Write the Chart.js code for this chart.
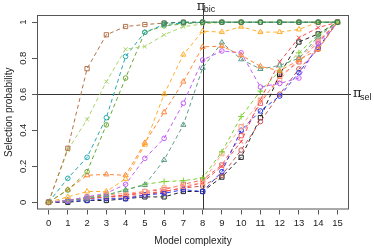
<!DOCTYPE html>
<html>
<head>
<meta charset="utf-8">
<style>
  body { margin: 0; background: #fff; }
  #wrap { width: 374px; height: 248px; }
</style>
</head>
<body>
<div id="wrap"><canvas id="pathChart" width="374" height="248"></canvas></div>
<script src="https://cdn.jsdelivr.net/npm/chart.js"></script>
<script>
    // x 값: 모델 복잡도
    const complexity = [0, 1, 2, 3, 4, 5, 6, 7, 8, 9, 10, 11, 12, 13, 14, 15];
    const xTicks = [0, 1, 2, 3, 4, 5, 6, 7, 8, 9, 10, 11, 12, 13, 14, 15];
    const yTicks = [0, 0.2, 0.4, 0.6, 0.8, 1];
    const yTickLabels = ['0', '0.2', '0.4', '0.6', '0.8', '1'];
    const bicLine = 8;
    const selLine = 0.6;

    // 변수별 선택 확률
    const darkGreen   = [null, null, null, null, null, null, 0.995, 1, 1, 1, 1, 1, 1, 1, 1, 1];
    const brownSq     = [0, 0.30, 0.742, 0.93, 0.976, 0.987, 0.995, 1, 1, 1, 1, 1, 1, 1, 1, 1];
    const limeX       = [0, 0.29, 0.46, 0.67, 0.85, 0.865, 0.93, 0.975, 0.99, 1, 1, 1, 1, 1, 1, 1];
    const tealCirc    = [0, 0.133, 0.25, 0.47, 0.81, 0.944, 0.987, 0.995, 1, 1, 1, 1, 1, 1, 1, 1];
    const oliveCirc   = [0, 0.068, 0.17, 0.43, 0.69, 0.944, 0.98, 0.99, 1, 1, 1, 1, 1, 1, 1, 1];
    const orangeTri   = [0, 0.03, 0.06, 0.06, 0.13, 0.32, 0.60, 0.82, 0.95, 0.945, 0.975, 0.945, 0.945, 0.96, 1, 1];
    const coralTri    = [0, 0.07, 0.15, 0.155, 0.15, 0.33, 0.50, 0.67, 0.863, 0.867, 0.817, 0.755, 0.73, 0.79, 0.85, 1];
    const purpleCirc  = [0, 0.01, 0.03, 0.05, 0.10, 0.244, 0.355, 0.55, 0.79, 0.84, 0.83, 0.64, 0.66, 0.69, 0.88, 1];
    const sageTri     = [0, 0.01, 0.02, 0.04, 0.068, 0.096, 0.235, 0.43, 0.746, 0.887, 0.794, 0.74, 0.76, 0.80, 0.92, 1];
    const greenPlus   = [0, 0.01, 0.03, 0.04, 0.07, 0.10, 0.115, 0.12, 0.135, 0.28, 0.476, 0.617, 0.73, 0.83, 0.93, 1];
    const salmonSq    = [0, 0.01, 0.03, 0.04, 0.05, 0.06, 0.08, 0.09, 0.11, 0.27, 0.42, 0.567, 0.68, 0.80, 0.90, 1];
    const blueCirc    = [0, 0.005, 0.01, 0.02, 0.02, 0.04, 0.05, 0.07, 0.06, 0.17, 0.40, 0.507, 0.59, 0.72, 0.86, 1];
    const redX        = [0, 0.01, 0.02, 0.03, 0.04, 0.05, 0.06, 0.08, 0.11, 0.20, 0.337, 0.57, 0.78, 0.914, 0.97, 1];
    const rustCirc    = [0, 0.01, 0.02, 0.03, 0.03, 0.04, 0.06, 0.08, 0.09, 0.15, 0.29, 0.448, 0.60, 0.74, 0.85, 1];
    const blackSq     = [0, 0, 0.01, 0.01, 0.02, 0.03, 0.03, 0.06, 0.06, 0.14, 0.25, 0.47, 0.71, 0.89, 0.935, 1];
    const redSq       = [0, 0.01, 0.02, 0.03, 0.04, 0.06, 0.07, 0.10, 0.124, 0.207, 0.37, 0.55, 0.70, 0.78, 0.89, 1];

    const series = [
        { values: darkGreen,  color: '#1b8a5a', style: 'circle',   r: 2.3 },
        { values: brownSq,    color: '#b3734a', style: 'rect',     r: 3 },
        { values: limeX,      color: '#a9d46a', style: 'crossRot', r: 2.8 },
        { values: tealCirc,   color: '#26a9ad', style: 'circle',   r: 2.3 },
        { values: oliveCirc,  color: '#6aa832', style: 'circle',   r: 2.3 },
        { values: orangeTri,  color: '#ffb02e', style: 'triangle', r: 3 },
        { values: coralTri,   color: '#ff8538', style: 'triangle', r: 3 },
        { values: purpleCirc, color: '#c45cf5', style: 'circle',   r: 2.3 },
        { values: sageTri,    color: '#5e9e8a', style: 'triangle', r: 3 },
        { values: greenPlus,  color: '#78d12e', style: 'cross',    r: 3 },
        { values: salmonSq,   color: '#ffa585', style: 'rect',     r: 3 },
        { values: blueCirc,   color: '#2a36f0', style: 'circle',   r: 2.3 },
        { values: redX,       color: '#ff4a4a', style: 'crossRot', r: 2.8 },
        { values: rustCirc,   color: '#c65454', style: 'circle',   r: 2.3 },
        { values: blackSq,    color: '#222222', style: 'rect',     r: 3 },
        { values: redSq,      color: '#ef6464', style: 'rect',     r: 3 }
    ];

    const datasets = series.map(s => ({
        data: s.values.map((v, i) => ({ x: complexity[i], y: v })),
        borderColor: s.color,
        borderWidth: 1,
        borderDash: [4, 3],
        pointStyle: s.style,
        pointRadius: s.r,
        pointBorderColor: s.color,
        pointBackgroundColor: 'transparent',
        pointBorderWidth: 1,
        fill: false,
        tension: 0
    }));

    // 테두리, 기준선, 라벨
    const framePlugin = {
        id: 'framePlugin',
        beforeDatasetsDraw(chart) {
            const { ctx, chartArea: a, scales: { x, y } } = chart;
            ctx.save();
            ctx.strokeStyle = '#333';
            ctx.lineWidth = 1;
            const xb = Math.round(x.getPixelForValue(bicLine)) + 0.5;
            ctx.beginPath();
            ctx.moveTo(xb, 10);
            ctx.lineTo(xb, a.bottom);
            ctx.stroke();
            const yb = Math.round(y.getPixelForValue(selLine)) + 0.5;
            ctx.beginPath();
            ctx.moveTo(a.left, yb);
            ctx.lineTo(a.right + 2, yb);
            ctx.stroke();
            ctx.restore();
        },
        afterDraw(chart) {
            const { ctx, chartArea: a, scales: { x, y } } = chart;
            ctx.save();
            ctx.strokeStyle = '#555';
            ctx.lineWidth = 1;
            ctx.strokeRect(a.left + 0.5, a.top + 0.5, a.width - 1, a.height - 1);

            ctx.fillStyle = '#222';
            ctx.font = '9.5px "Liberation Sans", Arial, sans-serif';
            ctx.textAlign = 'center';
            ctx.textBaseline = 'middle';
            yTicks.forEach((v, i) => {
                ctx.save();
                ctx.translate(23, y.getPixelForValue(v));
                ctx.rotate(-Math.PI / 2);
                ctx.fillText(yTickLabels[i], 0, 0);
                ctx.restore();
            });

            ctx.font = '10px "Liberation Sans", Arial, sans-serif';
            ctx.fillText('Model complexity', (a.left + a.right) / 2, 241);
            ctx.save();
            ctx.translate(9, (a.top + a.bottom) / 2);
            ctx.rotate(-Math.PI / 2);
            ctx.fillText('Selection probability', 0, 0);
            ctx.restore();

            ctx.textAlign = 'left';
            ctx.textBaseline = 'alphabetic';
            const xb = x.getPixelForValue(bicLine);
            ctx.font = '13px "DejaVu Serif", serif';
            ctx.fillText('\u03c0', xb - 6, 10);
            ctx.font = '9px "Liberation Sans", Arial, sans-serif';
            ctx.fillText('bic', xb + 1, 12);
            const yb = y.getPixelForValue(selLine);
            ctx.font = '13px "DejaVu Serif", serif';
            ctx.fillText('\u03c0', a.right + 4, yb + 3);
            ctx.font = '9px "Liberation Sans", Arial, sans-serif';
            ctx.fillText('sel', a.right + 11, yb + 6);
            ctx.restore();
        }
    };

    const chart = new Chart(document.getElementById('pathChart'), {
        type: 'line',
        data: { datasets: datasets },
        options: {
            responsive: false,
            animation: false,
            devicePixelRatio: 1,
            layout: { padding: { top: 15, right: 25, left: 0, bottom: 0 } },
            plugins: { legend: { display: false }, tooltip: { enabled: false } },
            scales: {
                x: {
                    type: 'linear',
                    min: -0.6,
                    max: 15.6,
                    afterBuildTicks: s => { s.ticks = xTicks.map(v => ({ value: v })); },
                    afterFit: s => { s.height = 38.5; },
                    ticks: {
                        padding: 3,
                        autoSkip: false,
                        maxRotation: 0,
                        color: '#222',
                        font: { family: '"Liberation Sans", Arial, sans-serif', size: 9.5 },
                        callback: v => String(v)
                    },
                    grid: { drawOnChartArea: false, drawTicks: true, tickLength: 5, color: '#555' },
                    border: { display: false }
                },
                y: {
                    type: 'linear',
                    min: -0.04,
                    max: 1.04,
                    afterBuildTicks: s => { s.ticks = yTicks.map(v => ({ value: v })); },
                    afterFit: s => { s.width = 37; },
                    ticks: { display: false },
                    grid: { drawOnChartArea: false, drawTicks: true, tickLength: 5, color: '#555' },
                    border: { display: false }
                }
            }
        },
        plugins: [framePlugin]
    });
</script>
</body>
</html>
